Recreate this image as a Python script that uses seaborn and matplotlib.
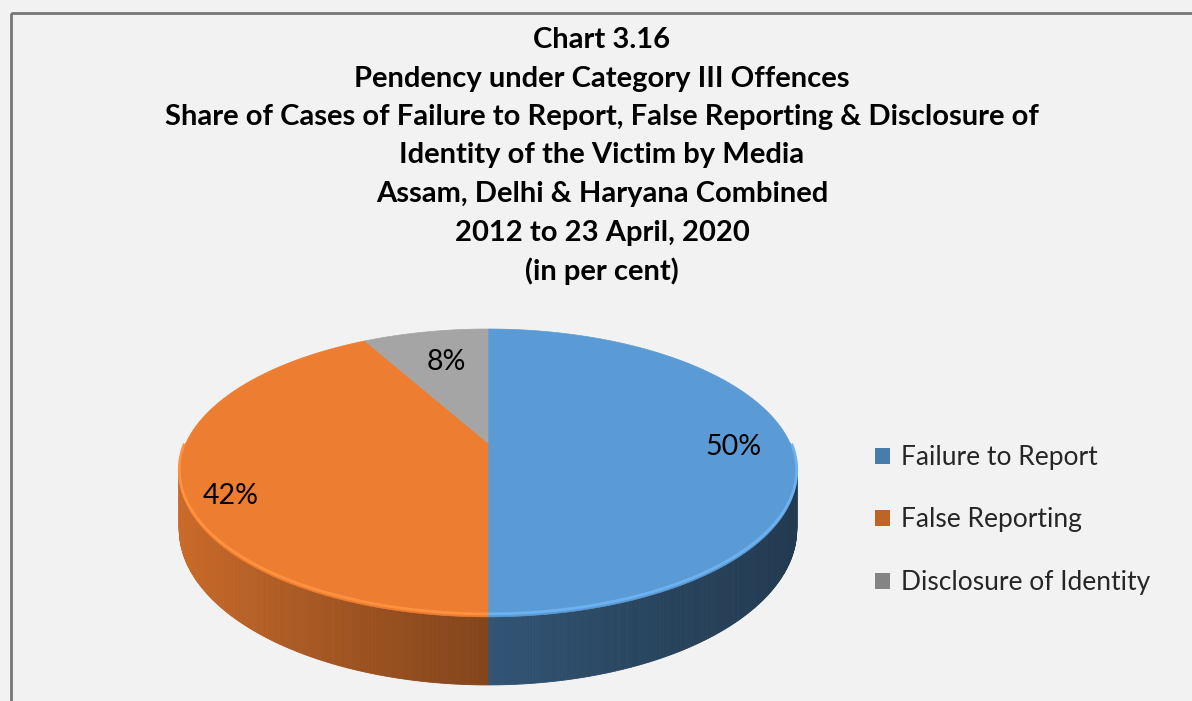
import numpy as np
import matplotlib
matplotlib.use("Agg")
import matplotlib.pyplot as plt
from matplotlib.patches import Polygon, Patch, Rectangle
import matplotlib.colors as mcolors
import seaborn as sns

# ---- data ----
categories = ["Failure to Report", "False Reporting", "Disclosure of Identity"]
shares = [50, 42, 8]
colors = ["#5b9bd5", "#ed7d31", "#a5a5a5"]
title_lines = [
    "Chart 3.16",
    "Pendency under Category III Offences",
    "Share of Cases of Failure to Report, False Reporting & Disclosure of",
    "Identity of the Victim by Media",
    "Assam, Delhi & Haryana Combined",
    "2012 to 23 April, 2020",
    "(in per cent)",
]

sns.set_theme(style="white")
plt.rcParams["font.family"] = ["Lato", "DejaVu Sans"]

W, H = 1192, 701
fig = plt.figure(figsize=(W / 100, H / 100), dpi=100, facecolor="#f2f2f2")
ax = fig.add_axes([0, 0, 1, 1])
ax.set_xlim(0, W)
ax.set_ylim(H, 0)
ax.axis("off")
ax.set_facecolor("#f2f2f2")

# chart border (extends beyond right/bottom edges)
ax.add_patch(Rectangle((10.5, 12.5), 1300, 800, fill=False, ec="#767676", lw=2, zorder=0))

# pie geometry (layout, with simple perspective)
cx, cy0, A, B, k, D = 488, 443, 302, 137.7, 0.208, 53.9
palette = sns.color_palette(colors)
x_left, x_right = 180, 797


def pt(theta_deg, side=False):
    t = np.deg2rad(theta_deg)
    s = np.sin(t)
    p = 1.0 / (1.0 + k * s)
    x = cx + A * np.cos(t) * p
    y = cy0 - B * s * p
    if side:
        y += D * p
    return x, y


def shade(x):
    t = (x - x_left) / (x_right - x_left)
    return 0.85 - 0.73 * t + 0.26 * t * t


total = float(sum(shares))
starts, ends = [], []
ang = 90.0
for v in shares:
    starts.append(ang)
    ang -= 360.0 * v / total
    ends.append(ang)

# sides (visible front half), drawn as thin strips with shading
for v, c, s, e in zip(shares, palette, starts, ends):
    th = np.linspace(s, e, 400)
    rgb = np.array(mcolors.to_rgb(c))
    for t0, t1 in zip(th[:-1], th[1:]):
        if np.sin(np.deg2rad(t0)) <= 1e-9 and np.sin(np.deg2rad(t1)) <= 1e-9:
            x0, y0 = pt(t0)
            x1, y1 = pt(t1)
            bx0, by0 = pt(t0, True)
            bx1, by1 = pt(t1, True)
            poly = [(x0, y0), (x1, y1), (bx1, by1), (bx0, by0)]
            f = shade((x0 + x1) / 2)
            col = np.clip(rgb * f, 0, 1)
            ax.add_patch(Polygon(poly, closed=True, fc=col, ec=col, lw=0.6, zorder=2))

# top faces
for v, c, s, e in zip(shares, palette, starts, ends):
    th = np.linspace(s, e, 300)
    pts = [(cx, cy0)] + [pt(t) for t in th]
    ax.add_patch(Polygon(pts, closed=True, fc=c, ec=c, lw=0.5, zorder=3))
    # bevel highlight along front edge
    front = [t for t in th if np.sin(np.deg2rad(t)) < -0.02]
    if front:
        xs, ys = zip(*[pt(t) for t in front])
        ys = [y - 3 for y in ys]
        hl = np.clip(np.array(mcolors.to_rgb(c)) * 1.08 + 0.04, 0, 1)
        ax.plot(xs, ys, color=hl, lw=2, zorder=4, solid_capstyle="butt")

# labels
label_pos = [(733, 447), (231, 496), (446, 362)]
for v, (lx, ly) in zip(shares, label_pos):
    ax.text(lx, ly, f"{v}%", fontsize=20.5, ha="center", va="center", color="#000000", zorder=5)

# title
for i, line in enumerate(title_lines):
    ax.text(602, 40 + i * 38.5, line, fontsize=21, fontweight="bold", ha="center",
            va="center", color="#000000")

# legend
handles = [Patch(facecolor=mcolors.to_hex(np.array(mcolors.to_rgb(c)) * 0.8), edgecolor="none") for c in palette]
leg = fig.legend(handles, categories, loc="center left", bbox_to_anchor=(875 / W, 1 - 520 / H),
                 frameon=False, fontsize=19, handlelength=0.55, handleheight=0.55,
                 handletextpad=0.45, labelspacing=1.42, borderaxespad=0, borderpad=0)

fig.savefig("out.png", dpi=100, facecolor=fig.get_facecolor())
